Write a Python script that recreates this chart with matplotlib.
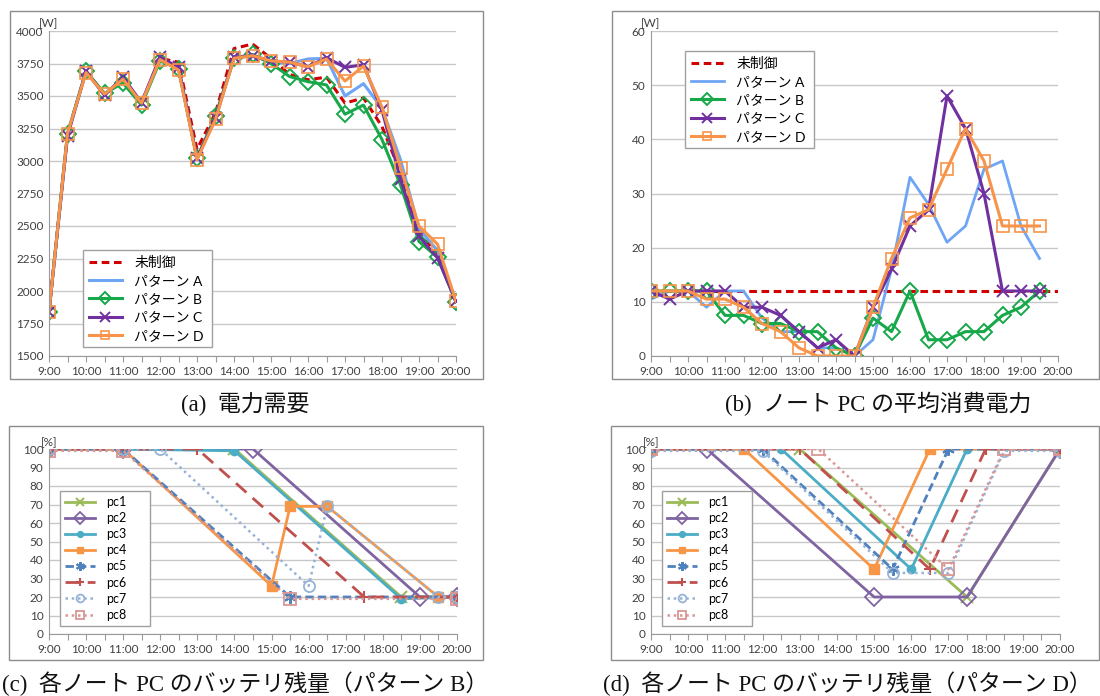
import numpy as np
import matplotlib
matplotlib.use("Agg")
import matplotlib.pyplot as plt
from matplotlib.patches import Rectangle

plt.rcParams['font.family'] = ['Lato', 'Noto Sans CJK JP', 'DejaVu Sans']

W, H = 1100, 696

# ---- (a) 電力需要 / (b) 平均消費電力 : 30分ごと 9:00-20:00
times = ["9:00", "9:30", "10:00", "10:30", "11:00", "11:30", "12:00", "12:30",
         "13:00", "13:30", "14:00", "14:30", "15:00", "15:30", "16:00", "16:30",
         "17:00", "17:30", "18:00", "18:30", "19:00", "19:30", "20:00"]
hour_labels = ["9:00", "10:00", "11:00", "12:00", "13:00", "14:00", "15:00",
               "16:00", "17:00", "18:00", "19:00", "20:00"]

demand_none = [1840, 3210, 3690, 3515, 3630, 3445, 3790, 3760, 3090, 3370, 3865, 3900,
               3790, 3665, 3625, 3645, 3445, 3485, 3265, 2910, 2450, 2290, 1920]
demand_A = [1840, 3210, 3690, 3515, 3630, 3445, 3780, 3715, 3020, 3330, 3790, 3810,
            3760, 3750, 3785, 3790, 3500, 3595, 3405, 3010, 2480, 2310, 1920]
demand_B = [1840, 3210, 3690, 3520, 3600, 3430, 3770, 3710, 3020, 3350, 3790, 3820,
            3750, 3650, 3610, 3585, 3360, 3430, 3165, 2815, 2380, 2260, 1915]
demand_C = [1840, 3190, 3690, 3505, 3645, 3450, 3800, 3720, 3020, 3330, 3800, 3810,
            3770, 3760, 3725, 3795, 3720, 3740, 3390, 2860, 2420, 2255, 1920]
demand_D = [1840, 3210, 3680, 3515, 3630, 3445, 3780, 3700, 3010, 3320, 3790, 3810,
            3770, 3760, 3725, 3785, 3615, 3730, 3415, 2950, 2500, 2360, 1920]

# (b) は 19:30 まで（未制御のみ 20:00 まで）
pc_none = [12, 12, 12, 12, 12, 12, 12, 12, 12, 12, 12, 12,
           12, 12, 12, 12, 12, 12, 12, 12, 12, 12, 12]
pc_A = [10.5, 12, 12, 9, 12, 12, 7, 4.5, 4.5, 1.5, 1.5, 0,
        3, 16, 33, 28, 21, 24, 34.5, 36, 24, 18]
pc_B = [12, 12, 12, 12, 7.5, 7.5, 6, 6, 4.5, 4.5, 1.5, 0,
        7, 4.5, 12, 3, 3, 4.5, 4.5, 7.5, 9, 12]
pc_C = [12, 10.5, 12, 12, 12, 9, 9, 7.5, 4.5, 1.5, 3, 0,
        9, 16, 24, 27, 48, 42, 30, 12, 12, 12]
pc_D = [12, 12, 12, 10.5, 10.5, 9, 6, 4.5, 1.5, 0, 0, 0,
        9, 18, 25.5, 27, 34.5, 42, 36, 24, 24, 24]

# ---- (c) バッテリ残量 パターンB
bat_B_t = {
    "pc1": ["9:00", "11:00", "14:00", "18:30", "20:00"],
    "pc2": ["9:00", "11:00", "14:30", "19:00", "20:00"],
    "pc3": ["9:00", "11:00", "14:00", "18:30", "20:00"],
    "pc4": ["9:00", "11:00", "15:00", "15:30", "16:30", "19:30", "20:00"],
    "pc5": ["9:00", "11:00", "15:30", "20:00"],
    "pc6": ["9:00", "13:00", "17:30", "20:00"],
    "pc7": ["9:00", "11:00", "12:00", "16:00", "16:30", "19:30", "20:00"],
    "pc8": ["9:00", "11:00", "15:30", "20:00"],
}
bat_B_v = {
    "pc1": [100, 100, 100, 20, 20],
    "pc2": [100, 100, 100, 20, 20],
    "pc3": [100, 100, 99, 19, 20],
    "pc4": [100, 100, 26, 69, 69, 20, 20],
    "pc5": [100, 100, 20, 20],
    "pc6": [100, 100, 20, 20],
    "pc7": [100, 100, 100, 26, 69, 20, 20],
    "pc8": [99, 99, 19, 19],
}

# ---- (d) バッテリ残量 パターンD
bat_D_t = {
    "pc1": ["9:00", "13:00", "17:30", "20:00"],
    "pc2": ["9:00", "10:30", "15:00", "17:30", "20:00"],
    "pc3": ["9:00", "12:30", "16:00", "17:30", "20:00"],
    "pc4": ["9:00", "11:30", "15:00", "16:30", "20:00"],
    "pc5": ["9:00", "12:00", "15:30", "17:00", "20:00"],
    "pc6": ["9:00", "13:00", "16:30", "18:00", "20:00"],
    "pc7": ["9:00", "12:00", "15:30", "17:00", "18:30", "20:00"],
    "pc8": ["9:00", "13:30", "17:00", "18:30", "20:00"],
}
bat_D_v = {
    "pc1": [100, 100, 20, 100],
    "pc2": [100, 100, 20, 20, 100],
    "pc3": [100, 100, 35, 100, 100],
    "pc4": [100, 100, 35, 100, 100],
    "pc5": [100, 100, 35, 100, 100],
    "pc6": [100, 100, 35, 100, 100],
    "pc7": [99, 99, 33, 33, 99, 99],
    "pc8": [100, 100, 35, 100, 100],
}


def hrs(labels):
    out = []
    for s in labels:
        h, m = s.split(":")
        out.append(int(h) + int(m) / 60)
    return np.array(out)


def px_axes(fig, x0, y0, x1, y1):
    # pixel box (top-left origin) -> axes
    return fig.add_axes([x0 / W, 1 - y1 / H, (x1 - x0) / W, (y1 - y0) / H])


def frame(fig, x0, y0, x1, y1):
    fig.add_artist(Rectangle((x0 / W, 1 - y1 / H), (x1 - x0) / W, (y1 - y0) / H,
                             transform=fig.transFigure, fill=False,
                             edgecolor="#8c8c8c", linewidth=1.0))


def style_axes(ax, ymin, ymax, ystep, unit):
    ax.set_xlim(9, 20)
    ax.set_ylim(ymin, ymax)
    ax.set_yticks(np.arange(ymin, ymax + ystep / 2, ystep))
    ax.set_xticks(hrs(times))
    ax.set_xticklabels([t if t in hour_labels else "" for t in times])
    ax.grid(axis="y", color="#c8c8c8", linewidth=1.0)
    ax.set_axisbelow(True)
    for s in ["top", "right"]:
        ax.spines[s].set_visible(False)
    for s in ["left", "bottom"]:
        ax.spines[s].set_color("#9a9a9a")
    ax.tick_params(axis="y", length=0, labelsize=8.5, labelcolor="#404040", pad=4)
    ax.tick_params(axis="x", length=4, color="#9a9a9a", labelsize=8.5,
                   labelcolor="#404040", pad=3)
    ax.text(0, 1.005, unit, transform=ax.transAxes, ha="center", va="bottom",
            fontsize=8.5, color="#404040")


def legend_box(ax, x0, y0, x1, y1, fs, mscale, spacing):
    # legend placed by pixel box
    bb = (x0 / W, 1 - y1 / H, (x1 - x0) / W, (y1 - y0) / H)
    leg = ax.legend(bbox_to_anchor=bb, bbox_transform=ax.figure.transFigure,
                    loc="upper left", mode="expand", fancybox=False,
                    edgecolor="#a0a0a0", framealpha=1, fontsize=fs,
                    handlelength=2.4, labelspacing=spacing, borderpad=0.4,
                    handletextpad=0.9, borderaxespad=0, markerscale=mscale)
    leg.get_frame().set_linewidth(1.0)
    return leg


fig = plt.figure(figsize=(W / 100, H / 100), dpi=100)

c_none = "#d00000"
c_A = "#6ea5f5"
c_B = "#17a84a"
c_C = "#7030a0"
c_D = "#f7944a"

# ---------------- (a)
frame(fig, 10, 11, 483, 379)
ax = px_axes(fig, 49, 31, 456, 356)
t = hrs(times)
ax.plot(t, demand_none, color=c_none, lw=2.2, ls=(0, (2.5, 1.5)), label="未制御")
ax.plot(t, demand_A, color=c_A, lw=2.2, label="パターン A")
ax.plot(t, demand_B, color=c_B, lw=2.2, marker="D", ms=8, mfc="none", mew=1.4,
        label="パターン B")
ax.plot(t, demand_C, color=c_C, lw=2.2, marker="x", ms=9, mew=1.4, label="パターン C")
ax.plot(t, demand_D, color=c_D, lw=2.2, marker="s", ms=8, mfc="none", mew=1.2,
        label="パターン D")
style_axes(ax, 1500, 4000, 250, "[W]")
legend_box(ax, 83, 250, 212, 342, 10, 0.75, 0.45)

# ---------------- (b)
frame(fig, 612, 11, 1099, 379)
ax = px_axes(fig, 651, 31, 1058, 356)
tb = t[:22]
ax.plot(t, pc_none, color=c_none, lw=2.2, ls=(0, (2.5, 1.5)), label="未制御")
ax.plot(tb, pc_A, color=c_A, lw=2.0, label="パターン A")
ax.plot(tb, pc_B, color=c_B, lw=2.2, marker="D", ms=8, mfc="none", mew=1.4,
        label="パターン B")
ax.plot(tb, pc_C, color=c_C, lw=2.2, marker="x", ms=9, mew=1.4, label="パターン C")
ax.plot(tb, pc_D, color=c_D, lw=2.2, marker="s", ms=8, mfc="none", mew=1.2,
        label="パターン D")
style_axes(ax, 0, 60, 10, "[W]")
legend_box(ax, 685, 51, 814, 145, 10, 0.75, 0.45)

# ---------------- (c)(d)
pc_style = {
    "pc1": dict(color="#9bbb59", ls="-", marker="x", ms=8, mew=1.5, lw=2.0),
    "pc2": dict(color="#8064a2", ls="-", marker="D", ms=9, mfc="none", mew=1.3, lw=2.0),
    "pc3": dict(color="#4bacc6", ls="-", marker="o", ms=6, lw=2.0),
    "pc4": dict(color="#f79646", ls="-", marker="s", ms=6.5, lw=2.0),
    "pc5": dict(color="#4f81bd", ls=(0, (3, 1.5)), marker=(6, 2, 0), ms=9, mew=1.5, lw=2.0),
    "pc6": dict(color="#c0504d", ls=(0, (5, 3)), marker="+", ms=9, mew=1.5, lw=2.0),
    "pc7": dict(color="#95b3d7", ls=(0, (1, 1.5)), marker="o", ms=8, mfc="none",
                mew=1.3, lw=1.8),
    "pc8": dict(color="#d99694", ls=(0, (1, 1.5)), marker="s", ms=8, mfc="none",
                mew=1.3, lw=1.8),
}

frame(fig, 9, 426, 483, 660)
ax = px_axes(fig, 49, 449, 457, 634)
for name in pc_style:
    ax.plot(hrs(bat_B_t[name]), bat_B_v[name], label=name, **pc_style[name])
style_axes(ax, 0, 100, 10, "[%]")
legend_box(ax, 60, 491, 150, 624, 9, 0.7, 0.33)

frame(fig, 611, 426, 1099, 660)
ax = px_axes(fig, 651, 449, 1060, 634)
for name in pc_style:
    ax.plot(hrs(bat_D_t[name]), bat_D_v[name], label=name, **pc_style[name])
style_axes(ax, 0, 100, 10, "[%]")
legend_box(ax, 662, 491, 752, 624, 9, 0.7, 0.33)

# ---------------- captions
cap = dict(fontsize=16.5, family=["Liberation Serif", "Noto Sans CJK JP"], va="center",
           color="#111111")
fig.text(245 / W, 1 - 404 / H, "(a)  電力需要", ha="center", **cap)
fig.text(878 / W, 1 - 404 / H, "(b)  ノート PC の平均消費電力", ha="center", **cap)
fig.text(2 / W, 1 - 684 / H, "(c)  各ノート PC のバッテリ残量（パターン B）", ha="left", **cap)
fig.text(603 / W, 1 - 684 / H, "(d)  各ノート PC のバッテリ残量（パターン D）", ha="left", **cap)

fig.savefig("out.png", dpi=100)
